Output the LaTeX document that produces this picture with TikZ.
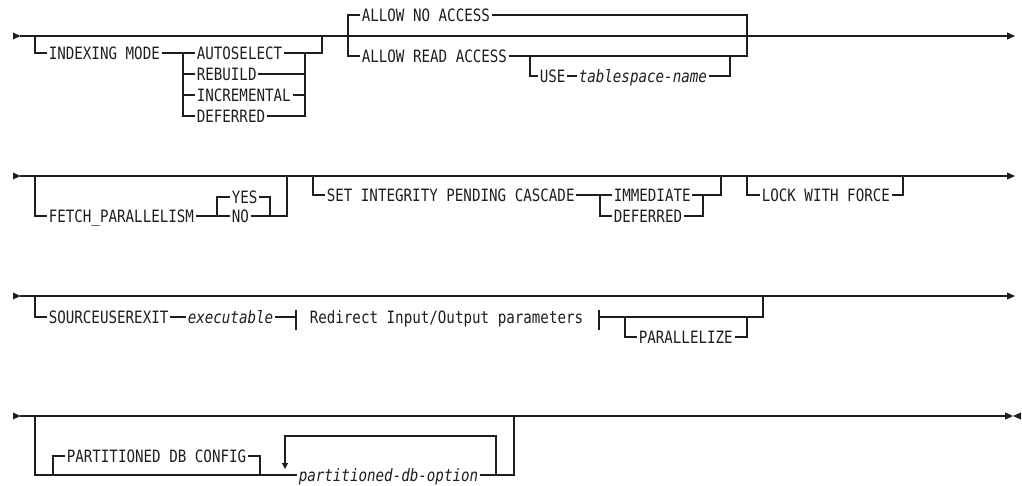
\documentclass[tikz,border=0pt]{standalone}
\usepackage{fontspec}
\usepackage{tikz}
\usetikzlibrary{
    positioning,
    arrows.meta
}
\newfontfamily\railfont[FakeStretch=0.835]{DejaVu Sans Mono}
\definecolor{railInk}{RGB}{30, 30, 30}

\tikzset{
    kw/.style={anchor=west, inner xsep=1.2pt, inner ysep=0pt, text height=12pt, text depth=0pt,
        font=\railfont\fontsize{17}{18}\selectfont},
    var/.style={kw, font=\railfont\itshape\fontsize{17}{18}\selectfont},
    startmk/.pic={\fill (0,-3.5) -- (7.5,0) -- (0,3.5) -- cycle;},
    stopmk/.pic={\fill (8,-3.5) -- (0,0) -- (8,3.5) -- cycle;},
    endtip/.style={-{Triangle[length=8pt,width=7pt]}}
}

\begin{document}
\begin{tikzpicture}[x=1pt, y=-1pt, line width=1.1pt, color=railInk]
    \useasboundingbox (0,0) rectangle (1022,485);

    % Row 1: indexing mode, access
    \coordinate (r1a) at (20,36);
    \coordinate (r1b) at (1015,36);
    \pic at (13,36) {startmk};
    \draw[endtip] (r1a) -- (r1b);

    \node[kw] (idxmode) at (47,53) {INDEXING MODE};
    \node[kw] (autosel) at (195,53) {AUTOSELECT};
    \node[kw] (rebuild) at (195,74) {REBUILD};
    \node[kw] (incr) at (195,95) {INCREMENTAL};
    \node[kw] (deferA) at (195,116) {DEFERRED};
    \coordinate (idxL) at (35,36);
    \coordinate (idxR) at (322,36);
    \coordinate (modeL) at (183,53);
    \coordinate (modeR) at (305,53);
    \draw (idxL) |- (idxmode.west);
    \draw (idxmode.east) -- (autosel.west);
    \draw (autosel.east) -| (idxR);
    \foreach \n in {rebuild, incr, deferA}
        \draw (modeL) |- (\n.west) (\n.east) -| (modeR);

    \node[kw] (noacc) at (360,15) {ALLOW NO ACCESS};
    \node[kw] (readacc) at (360,56) {ALLOW READ ACCESS};
    \coordinate (accL) at (348,36);
    \coordinate (accR) at (747,36);
    \draw (noacc.west) -| (accL) |- (readacc.west);
    \draw (noacc.east) -| (accR);
    \draw (readacc.east) -| (accR);

    \node[kw] (use) at (538,76) {USE};
    \node[var] (tsname) at (577,76) {tablespace-name};
    \coordinate (useL) at (530,56);
    \coordinate (useR) at (730,56);
    \draw (useL) |- (use.west);
    \draw (use.east) -- (tsname.west);
    \draw (tsname.east) -| (useR);

    % Row 2: parallelism, integrity, lock
    \coordinate (r2a) at (20,176);
    \coordinate (r2b) at (1015,176);
    \pic at (13,176) {startmk};
    \draw[endtip] (r2a) -- (r2b);

    \node[kw] (fetch) at (47,216) {FETCH\_PARALLELISM};
    \node[kw] (yes) at (230,197) {YES};
    \node[kw] (no) at (230,216) {NO};
    \coordinate (fetL) at (35,176);
    \coordinate (fetR) at (287,176);
    \coordinate (ynL) at (217,216);
    \coordinate (ynR) at (270,216);
    \draw (fetL) |- (fetch.west);
    \draw (fetch.east) -- (no.west);
    \draw (ynL) |- (yes.west);
    \draw (yes.east) -| (ynR);
    \draw (no.east) -| (fetR);

    \node[kw] (setint) at (325,195) {SET INTEGRITY PENDING CASCADE};
    \node[kw] (immed) at (612,195) {IMMEDIATE};
    \node[kw] (deferB) at (612,216) {DEFERRED};
    \coordinate (setL) at (313,176);
    \coordinate (setR) at (721,176);
    \coordinate (casL) at (600,195);
    \coordinate (casR) at (703,195);
    \draw (setL) |- (setint.west);
    \draw (setint.east) -- (immed.west);
    \draw (immed.east) -| (setR);
    \draw (casL) |- (deferB.west);
    \draw (deferB.east) -| (casR);

    \node[kw] (lockf) at (760,195) {LOCK WITH FORCE};
    \coordinate (lockL) at (747,176);
    \coordinate (lockR) at (903,176);
    \draw (lockL) |- (lockf.west);
    \draw (lockf.east) -| (lockR);

    % Row 3: user exit
    \coordinate (r3a) at (20,296);
    \coordinate (r3b) at (1015,296);
    \pic at (13,296) {startmk};
    \draw[endtip] (r3a) -- (r3b);

    \node[kw] (srcexit) at (47,317) {SOURCEUSEREXIT};
    \node[var] (execu) at (186,317) {executable};
    \node[kw] (redir) at (308,317) {Redirect Input/Output parameters};
    \node[kw] (paral) at (637,337) {PARALLELIZE};
    \coordinate (srcL) at (35,296);
    \coordinate (srcR) at (763,296);
    \coordinate (redL) at (296,317);
    \coordinate (redR) at (599,317);
    \coordinate (parL) at (625,317);
    \coordinate (parR) at (747,317);
    \draw (srcL) |- (srcexit.west);
    \draw (srcexit.east) -- (execu.west);
    \draw (execu.east) -- (redL);
    \draw (redL) ++(0,-7) -- ++(0,20);
    \draw (redR) ++(0,-7) -- ++(0,20);
    \draw (redR) -| (srcR);
    \draw (parL) |- (paral.west);
    \draw (paral.east) -| (parR);

    % Row 4: partitioned db
    \coordinate (r4a) at (20,416);
    \coordinate (r4b) at (1013,416);
    \pic at (13,416) {startmk};
    \draw[endtip] (r4a) -- (r4b);
    \pic at (1013,416) {stopmk};

    \node[kw] (pdbcfg) at (65,456) {PARTITIONED DB CONFIG};
    \node[var] (pdbopt) at (297,475) {partitioned-db-option};
    \coordinate (pdbL) at (35,416);
    \coordinate (pdbR) at (514,416);
    \coordinate (cfgL) at (53,475);
    \coordinate (cfgR) at (260,475);
    \coordinate (loopL) at (285,436);
    \coordinate (loopR) at (496,475);
    \draw (pdbL) |- (pdbopt.west);
    \draw (cfgL) |- (pdbcfg.west);
    \draw (pdbcfg.east) -| (cfgR);
    \draw (pdbopt.east) -| (pdbR);
    \draw[-{Triangle[length=6pt,width=6pt]}] (loopR) |- (loopL) -- ++(0,33);
\end{tikzpicture}
\end{document}
